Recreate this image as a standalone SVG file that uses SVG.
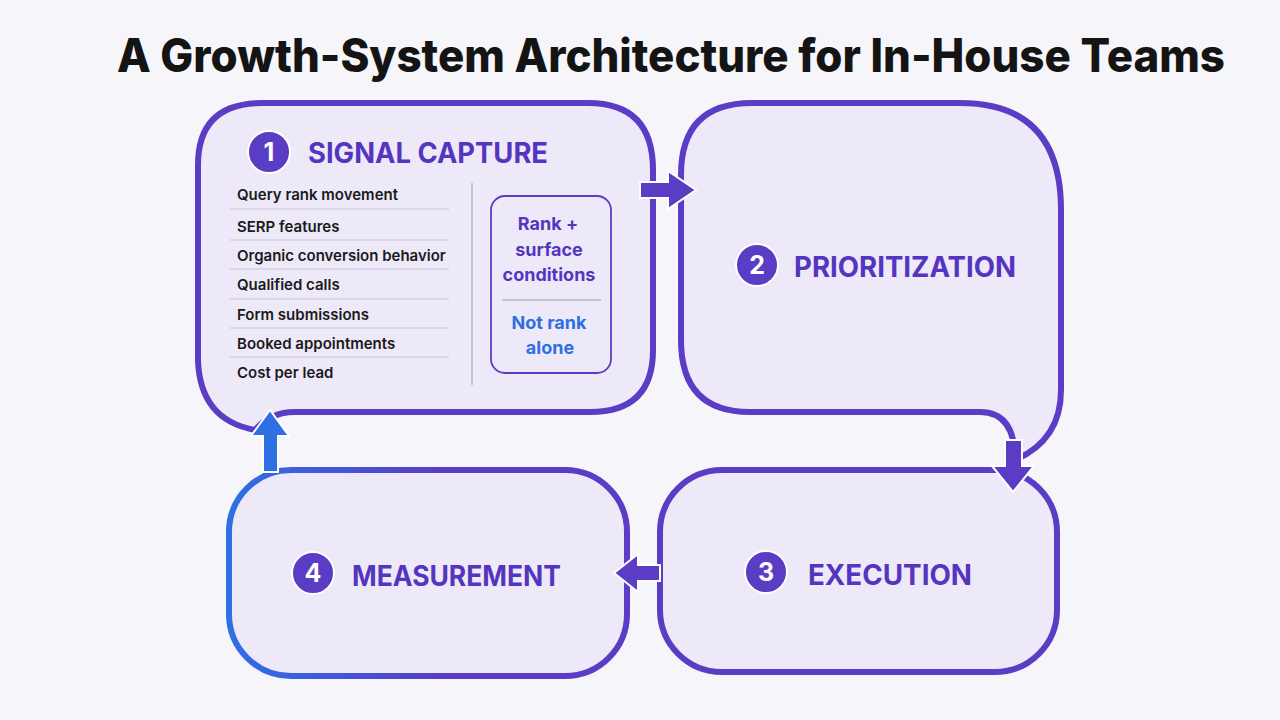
<svg xmlns="http://www.w3.org/2000/svg" width="1280" height="720" viewBox="0 0 1280 720">
<defs>
<linearGradient id="g4" x1="0" y1="0" x2="1" y2="0">
<stop offset="0" stop-color="#2f6fe4"/>
<stop offset="0.55" stop-color="#5b3cc4"/>
<stop offset="1" stop-color="#5b3cc4"/>
</linearGradient>
<style>
.box{fill:#ede9f8;stroke:#5b3cc4;stroke-width:6}
.badge{fill:#5b3cc4;stroke:#fff;stroke-width:2}
.num{font-family:Inter,"Liberation Sans",sans-serif;font-weight:700;font-size:25px;fill:#fff;text-anchor:middle}
.head{font-family:Inter,"Liberation Sans",sans-serif;font-weight:700;font-size:28px;fill:#5535bf}
.item{font-family:Inter,"Liberation Sans",sans-serif;font-weight:600;font-size:15px;fill:#1a1a1a}
.sep{stroke:#c9c6d2;stroke-width:1.2}
.side{font-family:Inter,"Liberation Sans",sans-serif;font-weight:700;font-size:18px;text-anchor:middle}
.arr{fill:#5b3cc4;stroke:#fff;stroke-width:2;stroke-linejoin:miter}
</style>
</defs>
<rect width="1280" height="720" fill="#f5f5fa"/>
<text x="117" y="72" font-family="Inter,'Liberation Sans',sans-serif" font-weight="800" font-size="46" fill="#141414" textLength="1108" lengthAdjust="spacingAndGlyphs">A Growth-System Architecture for In-House Teams</text>

<g id="node1">
<path class="box" d="M262,103 H588 Q653,103 653,170 V350 Q653,412 590,412 H295 Q270,412 255,430 Q200,420 198,360 V165 Q198,103 262,103 Z"/>
<circle class="badge" cx="269" cy="152" r="21"/>
<text class="num" x="269" y="161">1</text>
<text class="head" x="308" y="163" textLength="240" lengthAdjust="spacingAndGlyphs">SIGNAL CAPTURE</text>
<text class="item" x="237" y="200">Query rank movement</text>
<text class="item" x="237" y="232">SERP features</text>
<text class="item" x="237" y="261">Organic conversion behavior</text>
<text class="item" x="237" y="290">Qualified calls</text>
<text class="item" x="237" y="320">Form submissions</text>
<text class="item" x="237" y="349">Booked appointments</text>
<text class="item" x="237" y="378">Cost per lead</text>
<line class="sep" x1="230" y1="209" x2="449" y2="209"/>
<line class="sep" x1="230" y1="240" x2="449" y2="240"/>
<line class="sep" x1="230" y1="269" x2="449" y2="269"/>
<line class="sep" x1="230" y1="299" x2="449" y2="299"/>
<line class="sep" x1="230" y1="328" x2="449" y2="328"/>
<line class="sep" x1="230" y1="357" x2="449" y2="357"/>
<line x1="472" y1="183" x2="472" y2="385" stroke="#b9b6c2" stroke-width="1.5"/>
<rect x="491" y="196" width="120" height="177" rx="14" fill="none" stroke="#5b3cc4" stroke-width="1.8"/>
<text class="side" x="548" y="230" fill="#5535bf">Rank +</text>
<text class="side" x="549" y="256" fill="#5535bf">surface</text>
<text class="side" x="549" y="281" fill="#5535bf">conditions</text>
<line x1="502" y1="300" x2="601" y2="300" stroke="#b9b6c2" stroke-width="1.5"/>
<text class="side" x="549" y="329" fill="#2f6fe4">Not rank</text>
<text class="side" x="550" y="354" fill="#2f6fe4">alone</text>
</g>

<g id="node2">
<path class="box" d="M752,103 H960 Q1061,103 1061,210 V390 Q1061,440 1015,460 Q1015,412 980,412 H750 Q681,412 681,340 V175 Q681,103 752,103 Z"/>
<circle class="badge" cx="757" cy="265" r="21"/>
<text class="num" x="757" y="274">2</text>
<text class="head" x="794" y="277" textLength="222" lengthAdjust="spacingAndGlyphs">PRIORITIZATION</text>
</g>

<g id="node3">
<rect class="box" x="660" y="470" width="397" height="202" rx="62"/>
<circle class="badge" cx="766" cy="572" r="21"/>
<text class="num" x="766" y="581">3</text>
<text class="head" x="808" y="585" textLength="164" lengthAdjust="spacingAndGlyphs">EXECUTION</text>
</g>

<g id="node4">
<rect class="box" x="229" y="470" width="398" height="206" rx="62" style="stroke:url(#g4)"/>
<circle class="badge" cx="313" cy="573" r="21"/>
<text class="num" x="313" y="582">4</text>
<text class="head" x="352" y="586" textLength="209" lengthAdjust="spacingAndGlyphs">MEASUREMENT</text>
</g>

<g id="connectors">
<path class="arr" d="M640,182 H668 V171 L696,190 L668,209 V198 H640 Z"/>
<path class="arr" d="M1005,440 H1022 V466 H1034 L1013,492 L992,466 H1005 Z"/>
<path class="arr" d="M660,565 H638 V554 L614,573 L638,592 V581 H660 Z"/>
<path class="arr" d="M263,472 V436 H251 L270,410 L289,436 H278 V472 Z" style="fill:#2f6fe4"/>
</g>
</svg>
